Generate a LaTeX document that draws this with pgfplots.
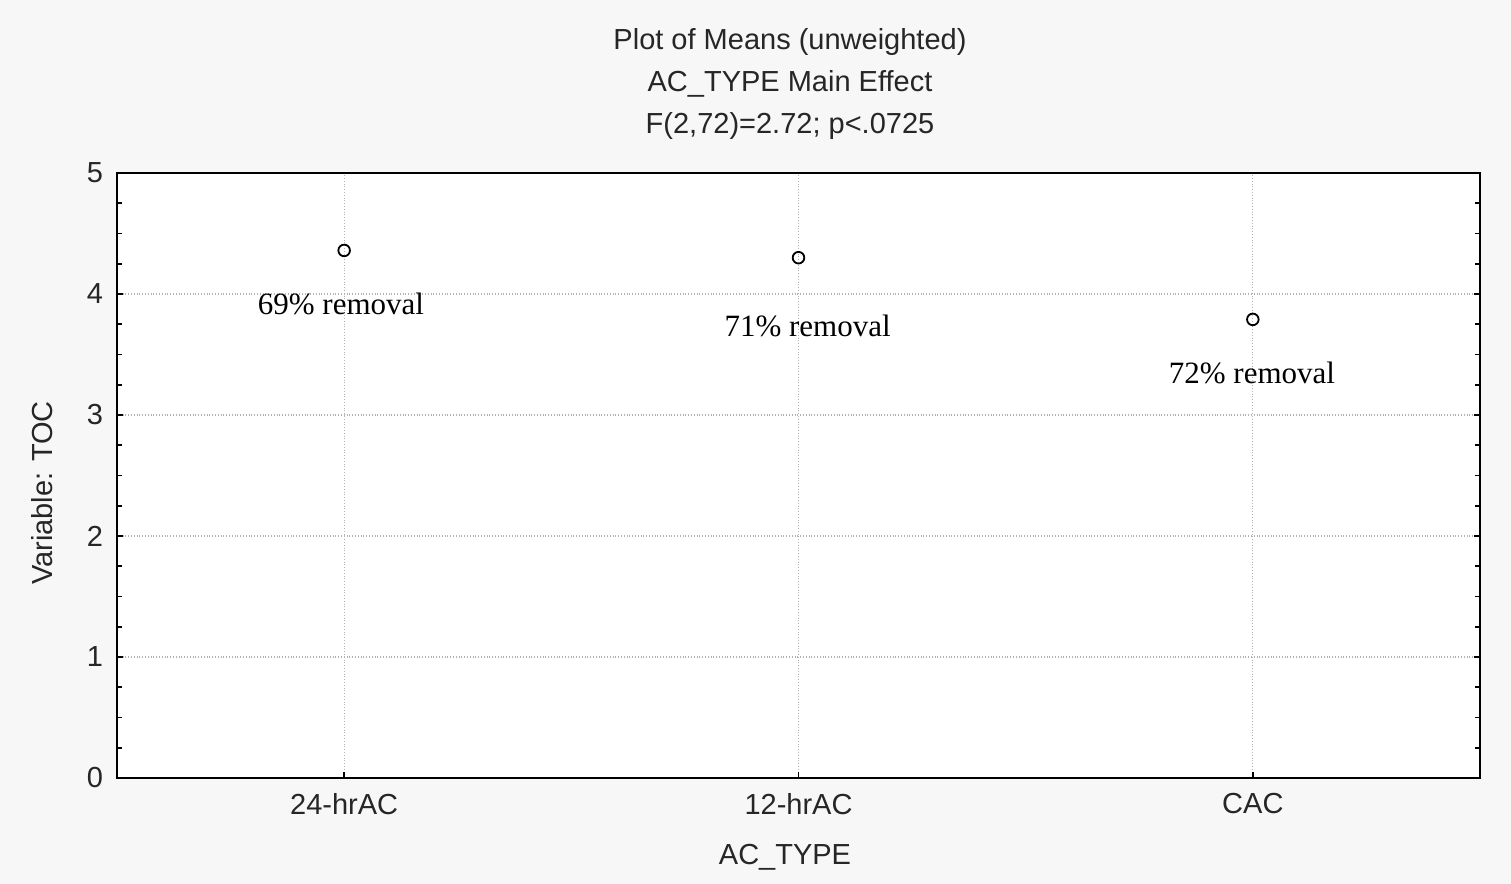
\documentclass[border=0pt]{standalone}
\usepackage{pgfplots}
\pgfplotsset{compat=1.18}
\usepackage{fontspec}
\setmainfont{Liberation Sans}
\newfontfamily\timesfont{Liberation Serif}
\newcommand{\px}[2]{(#1*0.5pt,-#2*0.5pt)}
\begin{document}
\begin{tikzpicture}
\fill[black!3] (0,0) rectangle (755.5pt,-442pt);
\begin{axis}[
  at={(58.5pt,-389pt)}, anchor=south west,
  scale only axis, width=681.5pt, height=302.5pt,
  xmin=-0.5, xmax=2.5, ymin=0, ymax=5,
  xtick={0,1,2}, xticklabels={24-hrAC,12-hrAC,CAC},
  ytick={0,1,2,3,4,5},
  minor y tick num=3,
  xtick pos=bottom, ytick pos=both,
  tick align=inside,
  major tick length=3pt, minor tick length=2.5pt,
  grid=major,
  grid style={densely dotted, black!30, line width=0.6pt},
  axis line style={line width=1.1pt, black},
  tick style={black, line width=0.8pt},
  axis background/.style={fill=white},
  /pgf/number format/assume math mode=true,
  ticklabel style={font=\fontsize{14.5}{16}\selectfont, black!85},
  yticklabel style={xshift=-3.5pt},
  xticklabel style={yshift=-4pt},
  clip=false,
]
\addplot[only marks, mark=o, mark size=2.9pt, mark options={line width=0.9pt, black}]
  coordinates {(0,4.36) (1,4.30) (2,3.79)};
\node[font=\timesfont\fontsize{15.5}{17}\selectfont] at (axis cs:-0.007,3.92) {69\% removal};
\node[font=\timesfont\fontsize{15.5}{17}\selectfont] at (axis cs:1.020,3.736) {71\% removal};
\node[font=\timesfont\fontsize{15.5}{17}\selectfont] at (axis cs:1.998,3.347) {72\% removal};
\end{axis}
\begin{scope}[every node/.style={font=\fontsize{14.5}{16}\selectfont, text=black!85}]
\node at \px{790}{42} {Plot of Means (unweighted)};
\node at \px{790}{84} {AC\_TYPE Main Effect};
\node at \px{790}{126} {F(2,72)=2.72; p<.0725};
\node[rotate=90] at \px{42}{493} {Variable: TOC};
\node at \px{785}{857} {AC\_TYPE};
\end{scope}
\end{tikzpicture}
\end{document}
